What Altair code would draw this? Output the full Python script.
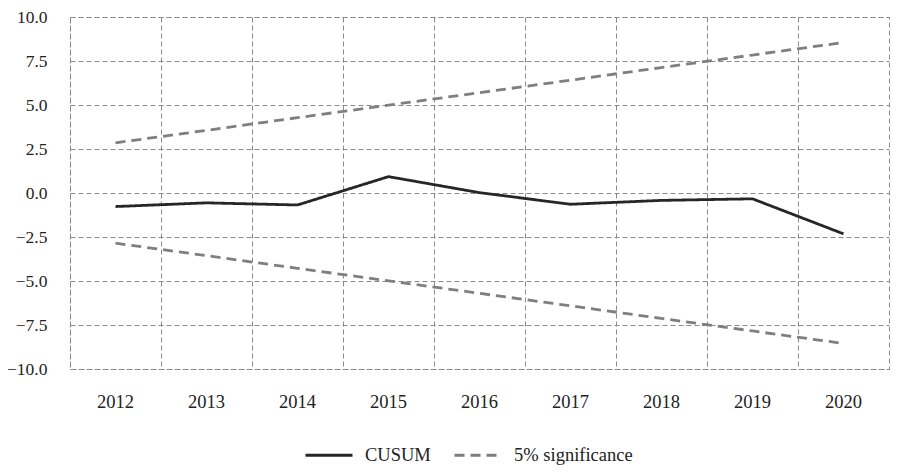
import altair as alt
import pandas as pd

years = ["2012", "2013", "2014", "2015", "2016", "2017", "2018", "2019", "2020"]
cusum = [-0.77, -0.56, -0.68, 0.93, 0.02, -0.64, -0.42, -0.33, -2.32]
upper = [2.85, 3.56, 4.28, 4.99, 5.70, 6.41, 7.13, 7.84, 8.55]
lower = [-2.85, -3.56, -4.28, -4.99, -5.70, -6.41, -7.13, -7.84, -8.55]
series_names = ["CUSUM", "5% significance"]

rows = []
for y, c, u, l in zip(years, cusum, upper, lower):
    rows.append({"year": y, "value": c, "series": series_names[0], "line": "cusum"})
    rows.append({"year": y, "value": u, "series": series_names[1], "line": "upper"})
    rows.append({"year": y, "value": l, "series": series_names[1], "line": "lower"})
df = pd.DataFrame(rows)

FONT = "Liberation Serif"

legend = alt.Legend(title=None, orient="none", direction="horizontal",
                    legendX=234, legendY=413, symbolType="stroke",
                    symbolSize=2209, symbolStrokeWidth=3, padding=0,
                    labelFont=FONT, labelFontSize=18.5, labelColor="#222",
                    columnPadding=17, labelOffset=11)

chart = alt.Chart(df).mark_line(strokeWidth=2.8).encode(
    x=alt.X("year:N", sort=years, title=None,
            scale=alt.Scale(type="band", paddingInner=0, paddingOuter=0),
            axis=alt.Axis(labelAngle=0, ticks=False, domain=False, bandPosition=0,
                          grid=True, labelPadding=23, labelFontSize=18.5,
                          labelFont=FONT, labelColor="#222")),
    y=alt.Y("value:Q", title=None,
            scale=alt.Scale(domain=[-10, 10], nice=False),
            axis=alt.Axis(values=[-10, -7.5, -5, -2.5, 0, 2.5, 5, 7.5, 10], format=".1f",
                          ticks=False, domain=False, grid=True, labelPadding=23,
                          labelFontSize=17.5, labelFont=FONT, labelColor="#222")),
    color=alt.Color("series:N", scale=alt.Scale(domain=series_names, range=["#262626", "#7f7f7f"]),
                    legend=legend),
    strokeDash=alt.StrokeDash("series:N", scale=alt.Scale(domain=series_names, range=[[1, 0], [10, 6]]),
                              legend=legend),
    detail="line:N",
).properties(
    width=819, height=352,
    autosize=alt.AutoSizeParams(type="none"),
    padding={"left": 62, "top": 9, "right": 3, "bottom": 98},
).configure_axis(
    gridColor="#8a8a8a", gridDash=[5, 3], gridWidth=1, gridOpacity=1
).configure_view(
    stroke="#8a8a8a", strokeDash=[5, 3], strokeWidth=1
)

chart.save("out.html", embed_options={"renderer": "svg", "actions": False})
